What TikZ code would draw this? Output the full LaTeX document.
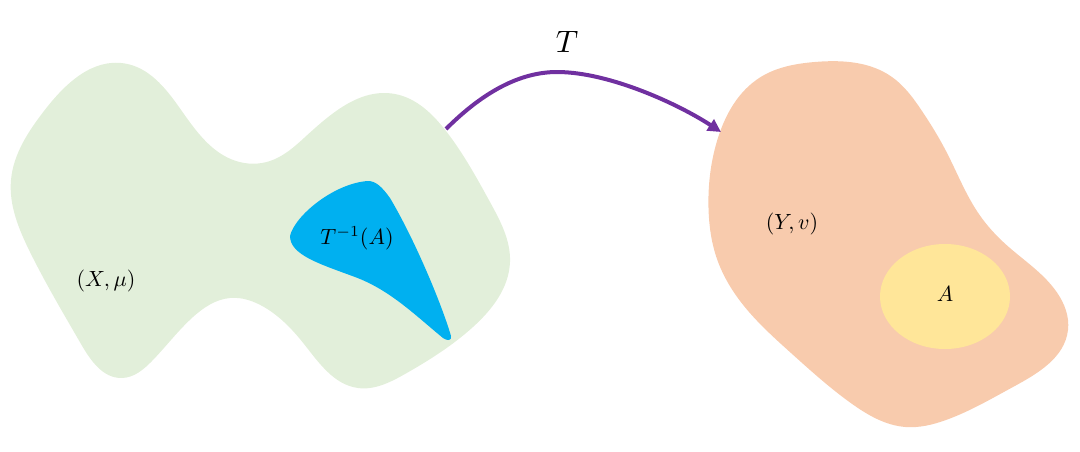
\documentclass[tikz,border=0pt]{standalone}
\usetikzlibrary{arrows.meta,hobby}
\definecolor{setgreen}{HTML}{E2EFDA}
\definecolor{setblue}{HTML}{00B0F0}
\definecolor{setorange}{HTML}{F8CBAD}
\definecolor{setyellow}{HTML}{FFE699}
\definecolor{mappurple}{HTML}{7030A0}
\tikzset{
  blob/.style={use Hobby shortcut, closed=true},
  lbl/.style={scale=2.2, transform shape, inner sep=0pt},
  maparrow/.style={draw=mappurple, line width=4pt, -{Triangle[length=13pt,width=13pt]}},
}
\begin{document}
\begin{tikzpicture}[x=1pt,y=-1pt]
\useasboundingbox (0,0) rectangle (1080,451);
% green space X
\fill[setgreen, blob] (125,63.5) .. (179,107) .. (236,161) .. (270,161) .. (304,138) .. (395,94) .. (446,131) .. (490,202) .. (510,262) .. (473,327) .. (405,374) .. (358,388) .. (304,344) .. (264,307) .. (230,298) .. (193,317) .. (152,361) .. (122,378) .. (81,344) .. (30,252) .. (11,180) .. (44,111);
% blue preimage
\fill[setblue] (290,236) .. controls (295,215) and (335,183) .. (368,181)
  .. controls (376,181) and (382,187) .. (390,198)
  .. controls (415,240) and (442,305) .. (451,336)
  .. controls (452,341) and (447,341) .. (443,338)
  .. controls (415,315) and (390,290) .. (355,277)
  .. controls (320,264) and (290,255) .. (290,236) -- cycle;
% orange space Y
\fill[setorange, blob] (814.6,62) .. (892,77) .. (922,111) .. (946,151) .. (979.6,215) .. (1006.5,245) .. (1057,292.5) .. (1068,330) .. (1013,387) .. (946,420) .. (905.5,427) .. (851.6,403.6) .. (791,353) .. (744,306) .. (717,259) .. (708.5,208) .. (717,141) .. (760.7,77);
% yellow set A
\fill[setyellow] (945,296.5) ellipse [x radius=65, y radius=52.5];
% labels
\node[lbl] (xmu) at (106,281) {$(X,\mu)$};
\node[lbl] (tinv) at (357,238) {$T^{-1}(A)$};
\node[lbl] (yv) at (792,224) {$(Y,v)$};
\node[lbl] (a) at (945,294) {$A$};
\node[inner sep=0pt, scale=3.1, transform shape] (tlabel) at (567,42) {$T$};
% map arrow
\coordinate (src) at (446,129);
\coordinate (apex) at (557,72);
\coordinate (dst) at (721,132);
\draw[maparrow] (src) .. controls (483,92) and (520,72) .. (apex)
  .. controls (610,72) and (680,105) .. (dst);
\end{tikzpicture}
\end{document}
